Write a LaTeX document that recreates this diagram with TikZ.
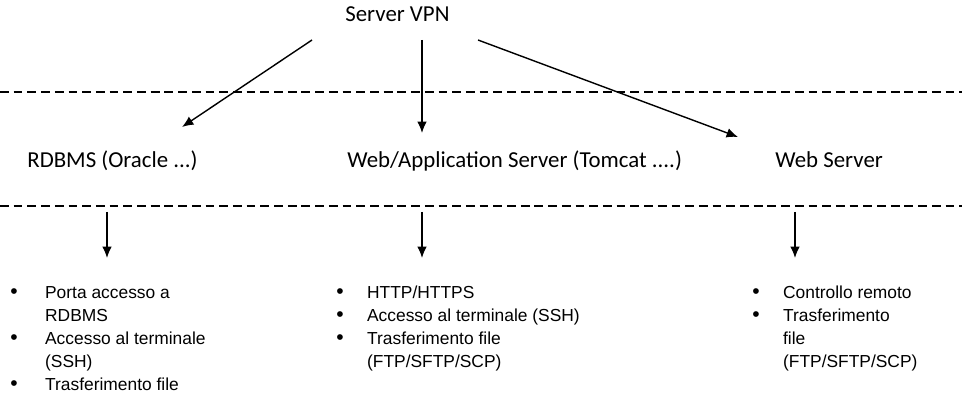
\documentclass[tikz,border=0pt]{standalone}
\usepackage{fontspec}
\setmainfont{Liberation Sans}
\newfontfamily\lblfont{Carlito}
\usetikzlibrary{arrows.meta}
\newcommand{\itm}[1][17.5pt]{\makebox[#1][l]{\fontsize{12}{13}\selectfont\textbullet}}
\newcommand{\cnt}[1][17.5pt]{\makebox[#1]{}}
\begin{document}
\begin{tikzpicture}[x=0.02cm, y=-0.02cm,
		lbl/.style={inner sep=0, anchor=base west, font=\lblfont\fontsize{13}{15}\selectfont},
		lst/.style={inner sep=0, anchor=base west, font=\fontsize{9.9}{13}\selectfont},
		arr/.style={-{Latex[length=6.5pt, width=5.5pt]}, line width=0.8pt},
		sep/.style={dashed, dash pattern=on 5pt off 2.8pt, line width=0.6pt}]
			\useasboundingbox (0, 0) rectangle (962, 401);
			\node[lbl] (vpn) at (345, 22) {Server VPN};
			\node[lbl] (rdbms) at (27, 168) {RDBMS (Oracle ...)};
			\node[lbl] (webapp) at (347, 168) {Web/Application Server (Tomcat ....)};
			\node[lbl] (websrv) at (775, 168) {Web Server};
			% separatori
			\coordinate (s1a) at (0, 92);
			\coordinate (s1b) at (962, 92);
			\coordinate (s2a) at (0, 206);
			\coordinate (s2b) at (962, 206);
			\draw[sep] (s1a) -- (s1b);
			\draw[sep] (s2a) -- (s2b);
			% frecce dal server VPN
			\coordinate (vpnl) at (312, 40);
			\coordinate (vpnm) at (422, 40);
			\coordinate (vpnr) at (478, 40);
			\coordinate (rdbmsin) at (182, 127);
			\coordinate (webappin) at (422, 133);
			\coordinate (websrvin) at (738, 137);
			\draw[arr] (vpnl) -- (rdbmsin);
			\draw[arr] (vpnm) -- (webappin);
			\draw[arr] (vpnr) -- (websrvin);
			% liste
			\node[lst] (lrdbms) at (10, 299) {\begin{tabular}[t]{@{}l@{}}
				\itm[19.8pt]Porta accesso a\\ \cnt[19.8pt]RDBMS\\
				\itm[19.8pt]Accesso al terminale\\ \cnt[19.8pt](SSH)\\
				\itm[19.8pt]Trasferimento file\end{tabular}};
			\node[lst] (lwebapp) at (336, 299) {\begin{tabular}[t]{@{}l@{}}
				\itm HTTP/HTTPS\\
				\itm Accesso al terminale (SSH)\\
				\itm Trasferimento file\\ \cnt (FTP/SFTP/SCP)\end{tabular}};
			\node[lst] (lwebsrv) at (752, 299) {\begin{tabular}[t]{@{}l@{}}
				\itm Controllo remoto\\
				\itm Trasferimento\\ \cnt file\\ \cnt (FTP/SFTP/SCP)\end{tabular}};
			\coordinate (d1) at (107, 212);
			\coordinate (d2) at (422, 212);
			\coordinate (d3) at (795, 212);
			\draw[arr] (d1) -- ++(0, 46);
			\draw[arr] (d2) -- ++(0, 46);
			\draw[arr] (d3) -- ++(0, 46);
		\end{tikzpicture}
\end{document}
